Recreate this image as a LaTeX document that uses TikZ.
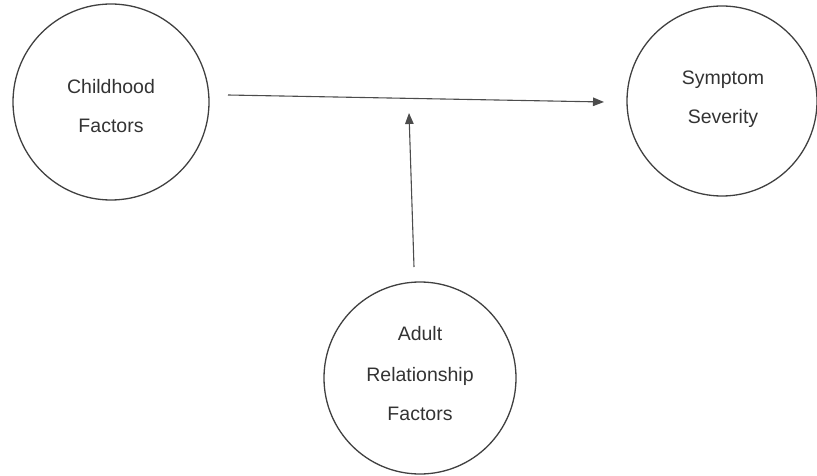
\documentclass[tikz,border=0pt]{standalone}
\usepackage{fontspec}
\setmainfont{Liberation Sans}
\usetikzlibrary{arrows.meta}
\begin{document}
\begin{tikzpicture}[x=1pt,y=-1pt,
  factor/.style={circle,draw=black!75,line width=1.3pt,inner sep=0pt},
  caption/.style={anchor=base,font=\fontsize{19.5}{39}\selectfont,text=black!80,inner sep=0pt},
  link/.style={draw=black!70,line width=1.1pt,-{Triangle[length=11pt,width=8.5pt]}}]
  \useasboundingbox (0,0) rectangle (817,476);
  % the three factors
  \node[factor,minimum size=196pt] (child) at (111,102) {};
  \node[factor,minimum size=190pt] (sympt) at (722,101) {};
  \node[factor,minimum size=192pt] (adult) at (420,378) {};
  % labels, one line each
  \node[caption] (c1) at (111,94) {Childhood};
  \node[caption] (c2) at (111,133) {Factors};
  \node[caption] (s1) at (723,85) {Symptom};
  \node[caption] (s2) at (723,124) {Severity};
  \node[caption] (a1) at (420,340) {Adult};
  \node[caption] (a2) at (420,381) {Relationship};
  \node[caption] (a3) at (420,420) {Factors};
  % arrow ends
  \coordinate (hs) at (228,95);
  \coordinate (he) at (604,102);
  \coordinate (vs) at (414,267);
  \coordinate (ve) at (409,113);
  \draw[link] (hs) -- (he);
  \draw[link] (vs) -- (ve);
\end{tikzpicture}
\end{document}
